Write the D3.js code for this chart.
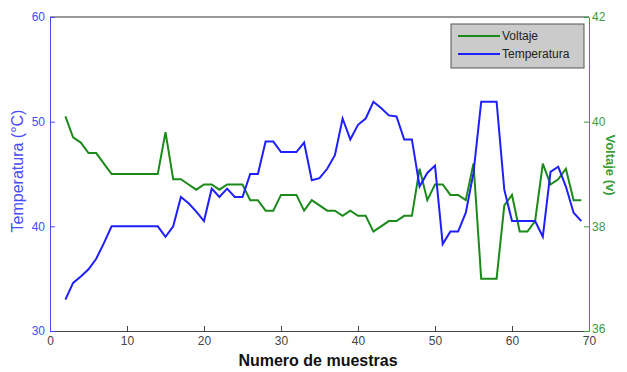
<!DOCTYPE html>
<html>
<head>
<meta charset="utf-8">
<script src="https://cdn.jsdelivr.net/npm/d3@7"></script>
<style>
  body { margin: 0; background: #fff; }
  text { font-family: "Liberation Sans", Arial, sans-serif; }
</style>
</head>
<body>
<div id="chart"></div>
<script>
// Data
var muestras = [2, 3, 4, 5, 6, 7, 8, 9, 10, 11, 12, 13, 14, 15, 16, 17, 18, 19, 20, 21,
  22, 23, 24, 25, 26, 27, 28, 29, 30, 31, 32, 33, 34, 35, 36, 37, 38, 39, 40, 41,
  42, 43, 44, 45, 46, 47, 48, 49, 50, 51, 52, 53, 54, 55, 56, 57, 58, 59, 60, 61,
  62, 63, 64, 65, 66, 67, 68, 69];

var temperatura = [33.0, 34.6, 35.2, 35.9, 36.9, 38.4, 40.0, 40.0, 40.0, 40.0, 40.0, 40.0, 40.0, 39.0, 40.0, 42.8, 42.2, 41.4, 40.5, 43.6,
  42.8, 43.6, 42.8, 42.8, 45.0, 45.0, 48.1, 48.1, 47.1, 47.1, 47.1, 48.0, 44.4, 44.6, 45.5, 46.8, 50.3, 48.3, 49.7, 50.3,
  51.9, 51.3, 50.6, 50.5, 48.3, 48.3, 43.8, 45.1, 45.8, 38.3, 39.5, 39.5, 41.3, 45.1, 51.9, 51.9, 51.9, 43.5, 40.5, 40.5,
  40.5, 40.5, 39.0, 45.2, 45.7, 43.8, 41.3, 40.5];

var voltaje = [40.1, 39.7, 39.6, 39.4, 39.4, 39.2, 39.0, 39.0, 39.0, 39.0, 39.0, 39.0, 39.0, 39.8, 38.9, 38.9, 38.8, 38.7, 38.8, 38.8,
  38.7, 38.8, 38.8, 38.8, 38.5, 38.5, 38.3, 38.3, 38.6, 38.6, 38.6, 38.3, 38.5, 38.4, 38.3, 38.3, 38.2, 38.3, 38.2, 38.2,
  37.9, 38.0, 38.1, 38.1, 38.2, 38.2, 39.1, 38.5, 38.8, 38.8, 38.6, 38.6, 38.5, 39.2, 37.0, 37.0, 37.0, 38.4, 38.6, 37.9,
  37.9, 38.1, 39.2, 38.8, 38.9, 39.1, 38.5, 38.5];

var xTicks = [0, 10, 20, 30, 40, 50, 60, 70];
var tempTicks = [30, 40, 50, 60];
var voltTicks = [36, 38, 40, 42];

// Chart setup
var svgWidth = 627;
var svgHeight = 372;
var margin = { top: 17, right: 38, bottom: 41, left: 50 };
var width = svgWidth - margin.left - margin.right;
var height = svgHeight - margin.top - margin.bottom;

var blue = "#1f1fff";
var green = "#1b8a1b";

var svg = d3.select("#chart")
  .append("svg")
  .attr("width", svgWidth)
  .attr("height", svgHeight);

svg.append("rect").attr("width", svgWidth).attr("height", svgHeight).attr("fill", "#fff");

var chartGroup = svg.append("g")
  .attr("transform", `translate(${margin.left}, ${margin.top})`);

var xScale = d3.scaleLinear().domain([0, 70]).range([0, width]);
var yTemp = d3.scaleLinear().domain([30, 60]).range([height, 0]);
var yVolt = d3.scaleLinear().domain([36, 42]).range([height, 0]);

// Box
chartGroup.append("line").attr("x1", 0).attr("x2", width).attr("y1", 0).attr("y2", 0)
  .attr("stroke", "#333").attr("stroke-width", 1);

// Axes
var bottomAxis = d3.axisBottom(xScale).tickValues(xTicks).tickSizeInner(-5).tickSizeOuter(0).tickPadding(5);
var leftAxis = d3.axisLeft(yTemp).tickValues(tempTicks).tickSizeInner(-5).tickSizeOuter(0).tickPadding(5);
var rightAxis = d3.axisRight(yVolt).tickValues(voltTicks).tickFormat(d3.format("d"))
  .tickSizeInner(-5).tickSizeOuter(0).tickPadding(3);

var xAxis = chartGroup.append("g")
  .attr("transform", `translate(0, ${height})`)
  .call(bottomAxis);
xAxis.selectAll("path, line").attr("stroke", "#444");
xAxis.selectAll("text").attr("fill", "#444").style("font-size", "12px");

var yAxisL = chartGroup.append("g").call(leftAxis);
yAxisL.selectAll("path, line").attr("stroke", "#4a4aff");
yAxisL.selectAll("text").attr("fill", "#4a4aff").style("font-size", "12px");

var yAxisR = chartGroup.append("g")
  .attr("transform", `translate(${width}, 0)`)
  .call(rightAxis);
yAxisR.selectAll("path, line").attr("stroke", "#3c9c3c");
yAxisR.selectAll("text").attr("fill", "#3c9c3c").style("font-size", "12px");
// bottom label sits a little high, as in the reference
yAxisR.selectAll("text").filter(d => d === 36).attr("dy", "0.1em");

// Lines
var tempLine = d3.line()
  .x((d, i) => xScale(muestras[i]))
  .y(d => yTemp(d));
var voltLine = d3.line()
  .x((d, i) => xScale(muestras[i]))
  .y(d => yVolt(d));

chartGroup.append("path")
  .datum(voltaje)
  .attr("d", voltLine)
  .attr("fill", "none")
  .attr("stroke", green)
  .attr("stroke-width", 2);

chartGroup.append("path")
  .datum(temperatura)
  .attr("d", tempLine)
  .attr("fill", "none")
  .attr("stroke", blue)
  .attr("stroke-width", 2);

// Axis labels
svg.append("text")
  .attr("x", 318)
  .attr("y", 366)
  .attr("text-anchor", "middle")
  .style("font-size", "16px")
  .style("font-weight", "bold")
  .attr("fill", "#111")
  .text("Numero de muestras");

svg.append("text")
  .attr("transform", "translate(23, 171) rotate(-90)")
  .attr("text-anchor", "middle")
  .style("font-size", "16px")
  .attr("fill", "#4a4aff")
  .text("Temperatura (°C)");

svg.append("text")
  .attr("transform", "translate(606, 165) rotate(90)")
  .attr("text-anchor", "middle")
  .style("font-size", "13px")
  .style("font-weight", "bold")
  .attr("fill", "#3c9c3c")
  .text("Voltaje (v)");

// Legend
var legend = svg.append("g").attr("transform", "translate(451, 24)");
legend.append("rect")
  .attr("width", 133)
  .attr("height", 44)
  .attr("fill", "#cbcbcb")
  .attr("stroke", "#555")
  .attr("stroke-width", 1);

var legendItems = [
  { name: "Voltaje", color: green, y: 12 },
  { name: "Temperatura", color: blue, y: 30 }
];
legendItems.forEach(function(item) {
  legend.append("line")
    .attr("x1", 7).attr("x2", 49)
    .attr("y1", item.y).attr("y2", item.y)
    .attr("stroke", item.color)
    .attr("stroke-width", 2);
  legend.append("text")
    .attr("x", 51)
    .attr("y", item.y + 4)
    .style("font-size", "12px")
    .attr("fill", "#222")
    .text(item.name);
});
</script>
</body>
</html>
